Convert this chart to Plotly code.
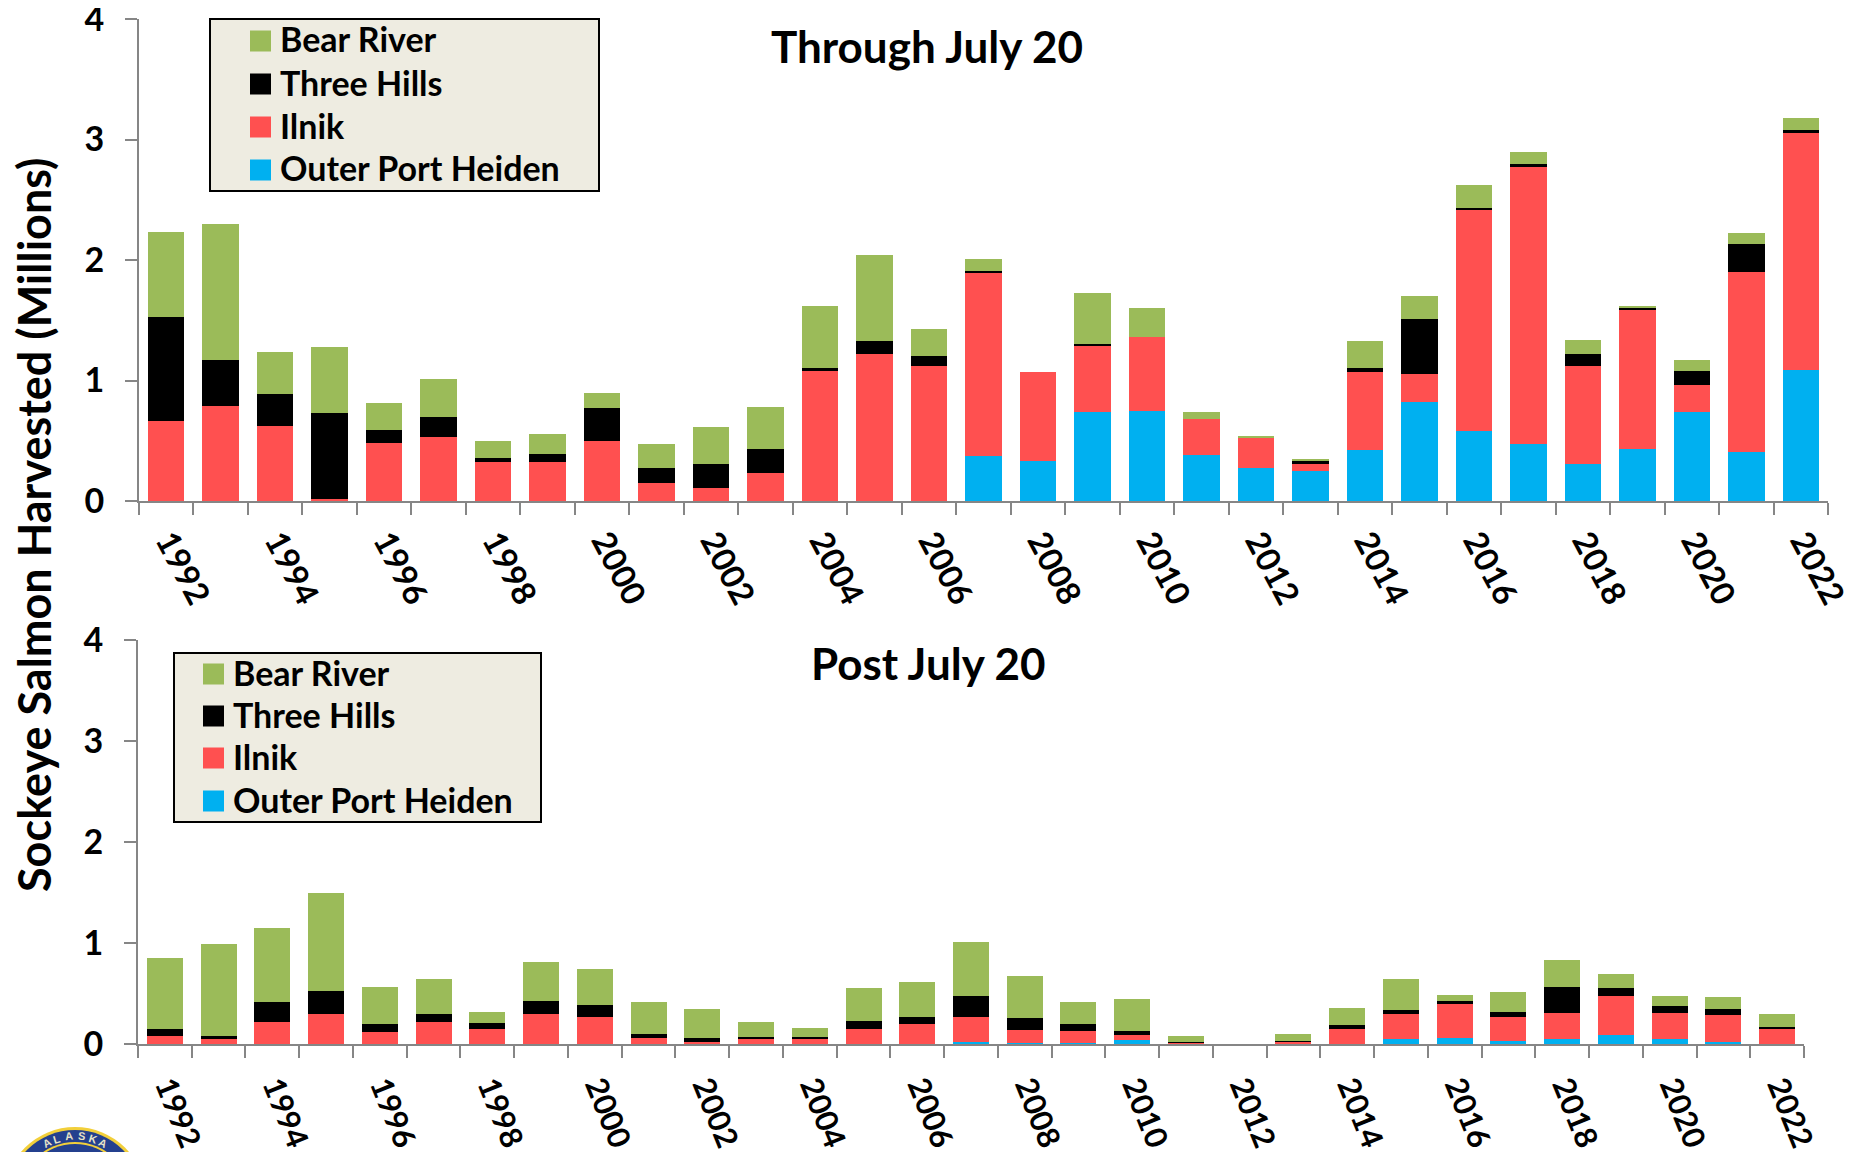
import math
import plotly.graph_objects as go

years = list(range(1992, 2023))
label_years = list(range(1992, 2023, 2))

top_outer = [0]*15 + [.37,.33,.74,.75,.38,.27,.25,.42,.82,.58,.47,.31,.43,.74,.41,1.09]
top_ilnik = [.66,.79,.62,.02,.48,.53,.32,.32,.50,.15,.11,.23,1.08,1.22,1.12,1.53,.74,.55,.61,.30,.25,.06,.65,.23,1.84,2.30,.81,1.16,.22,1.49,1.96]
top_three = [.87,.38,.27,.71,.11,.17,.04,.07,.27,.12,.20,.20,.02,.11,.08,.01,0,.01,0,0,0,.02,.03,.46,.01,.03,.10,.01,.12,.23,.03]
top_bear  = [.70,1.13,.35,.55,.22,.31,.14,.17,.13,.20,.30,.35,.52,.71,.23,.10,0,.43,.24,.06,.02,.02,.23,.19,.19,.10,.12,.02,.09,.09,.10]

bot_outer = [0]*15 + [.02,.01,.01,.04,0,0,0,0,.05,.06,.03,.05,.09,.05,.015,.005]
bot_ilnik = [.08,.05,.22,.30,.12,.22,.15,.30,.27,.06,.02,.05,.05,.15,.20,.25,.13,.12,.05,.01,0,.02,.15,.25,.34,.24,.26,.39,.26,.275,.145]
bot_three = [.07,.03,.20,.22,.08,.08,.06,.13,.12,.04,.04,.02,.02,.08,.07,.21,.12,.07,.04,.01,0,.01,.04,.04,.03,.05,.25,.07,.07,.06,.02]
bot_bear  = [.70,.91,.73,.98,.36,.34,.11,.38,.35,.32,.29,.15,.09,.32,.34,.53,.41,.22,.32,.06,0,.07,.17,.30,.06,.19,.27,.14,.10,.12,.13]

names = ["Outer Port Heiden", "Ilnik", "Three Hills", "Bear River"]
colors = ["#00B0F0", "#FF5050", "#000000", "#9BBB59"]

W, H = 1859, 1152
FONT = "Lato"
BODY = 8  # the page's default body margin

def px(x):
    return (x - BODY) / W

def py(y):
    return 1 - (y - BODY) / H

fig = go.Figure()
panels = [("x", "y", [top_outer, top_ilnik, top_three, top_bear]),
          ("x2", "y2", [bot_outer, bot_ilnik, bot_three, bot_bear])]
for xa, ya, series in panels:
    for vals, name, col in zip(series, names, colors):
        fig.add_trace(go.Bar(x=years, y=vals, name=name, marker=dict(color=col, line_width=0),
                             xaxis=xa, yaxis=ya, showlegend=False, width=0.67))

def xaxis(l, r, anchor, angle, standoff, shift, size):
    return dict(domain=[px(l), px(r)], range=[1991.5, 2022.5], anchor=anchor, automargin=False,
                tickmode="array", tickvals=label_years, ticktext=[str(y) for y in label_years],
                tickangle=angle, ticks="", ticklabelstandoff=standoff, ticklabelshift=shift,
                ticklabeloverflow="allow",
                tickfont=dict(family=FONT, size=size, color="black", weight=700),
                showline=True, linecolor="#868686", linewidth=2, showgrid=False, zeroline=False,
                minor=dict(tickmode="array", tickvals=[y - .5 for y in years] + [2022.5], ticks="outside",
                           ticklen=12, tickcolor="#868686", tickwidth=2, showgrid=False))

def yaxis(t, b, anchor):
    return dict(domain=[py(b), py(t)], range=[0, 4], anchor=anchor, tickvals=[0, 1, 2, 3, 4], automargin=False,
                ticks="outside", ticklen=12, tickcolor="#868686", tickwidth=2, ticklabelstandoff=14,
                ticklabeloverflow="allow",
                tickfont=dict(family=FONT, size=34, color="black", weight=700),
                showline=True, linecolor="#868686", linewidth=2, showgrid=False, zeroline=False)

ann = [
    dict(text="Through July 20", x=px(927), y=py(46), font=dict(size=44)),
    dict(text="Post July 20", x=px(928), y=py(663), font=dict(size=44)),
    dict(text="Sockeye Salmon Harvested (Millions)", x=px(34), y=py(525), textangle=-90, font=dict(size=45)),
]
for a in ann:
    a.update(xref="paper", yref="paper", showarrow=False, xanchor="center", yanchor="middle")
    a["font"].update(family=FONT, color="black", weight=700)

shapes = []
def rect(l, t, r, b, fill, line=None):
    return dict(type="rect", xref="paper", yref="paper", x0=px(l), x1=px(r), y0=py(b), y1=py(t),
                fillcolor=fill, layer="above",
                line=dict(color=line, width=2) if line else dict(width=0))

legend_order = [3, 2, 1, 0]
for (l, t, r, b), key_x, text_x, rows in [
    ((210, 19, 599, 191), 250, 278, [41, 84, 127, 170]),
    ((174, 653, 541, 822), 203, 231, [674, 716, 758, 801]),
]:
    shapes.append(rect(l, t, r, b, "#EEECE1", "black"))
    for idx, row in zip(legend_order, rows):
        shapes.append(rect(key_x, row - 10.5, key_x + 21, row + 10.5, colors[idx]))
        ann.append(dict(text=names[idx], x=px(text_x), y=py(row - 2), xref="paper", yref="paper", showarrow=False,
                        xanchor="left", yanchor="middle",
                        font=dict(family=FONT, size=34, color="black", weight=700)))

# Alaska seal, cropped by the bottom of the page
cx, cy = 75, 1198
def circ(r, col):
    return dict(type="circle", xref="paper", yref="paper", x0=px(cx-r), x1=px(cx+r),
                y0=py(cy+r), y1=py(cy-r), fillcolor=col, line_width=0, layer="below")
shapes += [circ(71, "#F2CF3A"), circ(68, "#24408E"), circ(56, "#F2CF3A"), circ(54, "#24408E")]
for ch, deg in zip("ALASKA", [-27, -17, -6, 6, 17, 27]):
    rad = math.radians(deg)
    ann.append(dict(text=ch, x=px(cx+62*math.sin(rad)), y=py(cy-62*math.cos(rad)), textangle=deg,
                    xref="paper", yref="paper", showarrow=False, xanchor="center", yanchor="middle",
                    font=dict(family="Liberation Sans", size=11, color="#E8E4C8", weight=700)))

fig.update_layout(
    width=W, height=H, margin=dict(l=0, r=0, t=0, b=0, autoexpand=False), autosize=False,
    paper_bgcolor="white", plot_bgcolor="white", barmode="stack", showlegend=False,
    xaxis=xaxis(139, 1828, "y", 62, 6, 3, 33), yaxis=yaxis(19, 501, "x"),
    xaxis2=xaxis(138, 1804, "y2", 68, 10, 4, 31), yaxis2=yaxis(640, 1044, "x2"),
    annotations=ann, shapes=shapes,
)
fig.write_html("out.html")
